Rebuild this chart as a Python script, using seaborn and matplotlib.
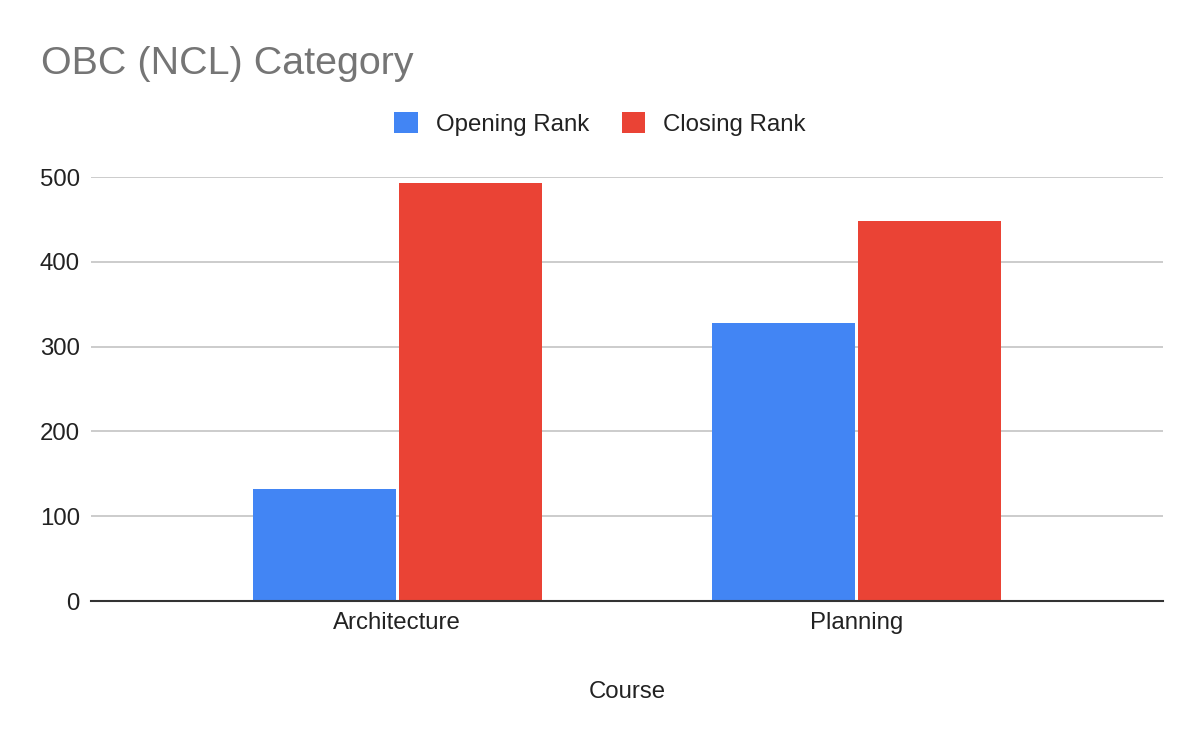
import matplotlib
matplotlib.use("Agg")
import matplotlib.pyplot as plt
import seaborn as sns
import pandas as pd
from matplotlib.patches import Patch

courses = ["Architecture", "Planning"]
series_names = ["Opening Rank", "Closing Rank"]
opening_rank = [132, 328]
closing_rank = [493, 448]
y_ticks = [0, 100, 200, 300, 400, 500]
colors = ["#4285F4", "#EA4335"]

df = pd.DataFrame({
    "Course": courses * 2,
    "Series": [series_names[0]] * len(courses) + [series_names[1]] * len(courses),
    "Rank": opening_rank + closing_rank,
})

sns.set_theme(style="white")
plt.rcParams["font.family"] = ["Liberation Sans", "DejaVu Sans"]

fig = plt.figure(figsize=(12, 7.42), dpi=100)
ax = fig.add_axes([91 / 1200, 1 - 601 / 742, (1163 - 91) / 1200, (601 - 177) / 742])

sns.barplot(data=df, x="Course", y="Rank", hue="Series", hue_order=series_names,
            palette=colors, width=0.636, gap=0.025, saturation=1, ax=ax,
            legend=False, linewidth=0, errorbar=None)

ax.set_xlim(-0.667, 1.667)
ax.set_ylim(0, 500)
ax.set_yticks(y_ticks)
ax.set_yticklabels([str(t) for t in y_ticks])
ax.yaxis.grid(True, color="#cccccc", linewidth=1.4)
ax.set_axisbelow(True)
for s in ["top", "right", "left"]:
    ax.spines[s].set_visible(False)
ax.spines["bottom"].set_color("#333333")
ax.spines["bottom"].set_linewidth(1.5)
ax.spines["bottom"].set_zorder(5)
ax.tick_params(axis="both", length=0, labelsize=17.3, labelcolor="#222222")
ax.tick_params(axis="y", pad=8)
ax.tick_params(axis="x", pad=8)

ax.set_ylabel("")
ax.set_xlabel("Course", fontsize=17.3, color="#222222")
ax.xaxis.label.set_va("baseline")
ax.xaxis.set_label_coords(0.5, -(697.7 - 601) / 424)

fig.text(41 / 1200, 1 - 74 / 742, "OBC (NCL) Category", fontsize=28.4,
         color="#757575", ha="left", va="baseline")

handles = [Patch(facecolor=c, edgecolor="none") for c in colors]
fig.legend(handles, series_names, loc="center", bbox_to_anchor=(600 / 1200, 1 - 124 / 742),
           ncol=2, frameon=False, fontsize=17.3, handlelength=0.98, handleheight=0.98,
           handletextpad=0.75, columnspacing=1.36, labelcolor="#222222")

fig.savefig("out.png", dpi=100, facecolor="white")
